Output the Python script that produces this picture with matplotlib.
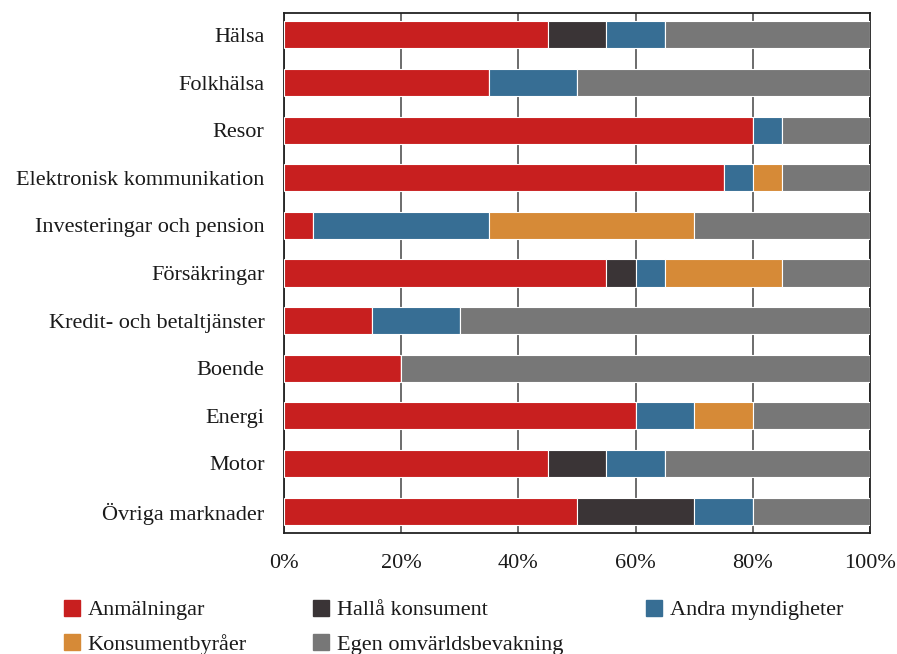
import matplotlib.pyplot as plt
from matplotlib.patches import Patch

categories = ["Hälsa", "Folkhälsa", "Resor", "Elektronisk kommunikation",
              "Investeringar och pension", "Försäkringar",
              "Kredit- och betaltjänster", "Boende", "Energi", "Motor",
              "Övriga marknader"]

series = ["Anmälningar", "Hallå konsument", "Andra myndigheter",
          "Konsumentbyråer", "Egen omvärldsbevakning"]

anmalningar = [45, 35, 80, 75, 5, 55, 15, 20, 60, 45, 50]
halla = [10, 0, 0, 0, 0, 5, 0, 0, 0, 10, 20]
andra = [10, 15, 5, 5, 30, 5, 15, 0, 10, 10, 10]
byraer = [0, 0, 0, 5, 35, 20, 0, 0, 10, 0, 0]
egen = [35, 50, 15, 15, 30, 15, 70, 80, 20, 35, 20]

colors = ["#c81f1f", "#3a3436", "#376e94", "#d68a37", "#777777"]

plt.rcParams['font.family'] = ['Liberation Serif', 'DejaVu Serif']

fig = plt.figure(figsize=(8.97, 6.54), dpi=100)
ax = fig.add_axes([284/897, 1-533/654, 586/897, 520/654])

y = list(range(len(categories)))
left = [0]*len(categories)
for vals, col, name in zip([anmalningar, halla, andra, byraer, egen], colors, series):
    ax.barh(y, vals, left=left, height=0.57, color=col, edgecolor="white",
            linewidth=0.8, label=name, zorder=3)
    left = [a+b for a, b in zip(left, vals)]

ax.set_xlim(0, 100)
ax.set_ylim(len(categories)-0.54, -0.46)
ax.set_yticks(y)
ax.set_yticklabels(categories, fontsize=16, color="#1a1a1a")
ax.set_xticks([0, 20, 40, 60, 80, 100])
ax.set_xticklabels(["0%", "20%", "40%", "60%", "80%", "100%"], fontsize=16,
                   color="#1a1a1a")
ax.tick_params(axis="y", length=0, pad=14)
ax.tick_params(axis="x", length=0, pad=15)
ax.grid(axis="x", color="#444444", linewidth=1.1, zorder=0)
for s in ax.spines.values():
    s.set_color("#222222")
    s.set_linewidth(1.3)

handles = [Patch(color=c) for c in colors]
cols = [([0, 3], 0.0713), ([1, 4], 0.349), ([2], 0.720)]
for idx, x0 in cols:
    fig.legend([handles[i] for i in idx], [series[i] for i in idx],
               loc="upper left", bbox_to_anchor=(x0, 0.083), frameon=False,
               fontsize=16, handlelength=0.72, handleheight=0.72,
               handletextpad=0.35, labelspacing=0.62, borderpad=0,
               borderaxespad=0, labelcolor="#1a1a1a")

fig.savefig("out.png", dpi=100)
